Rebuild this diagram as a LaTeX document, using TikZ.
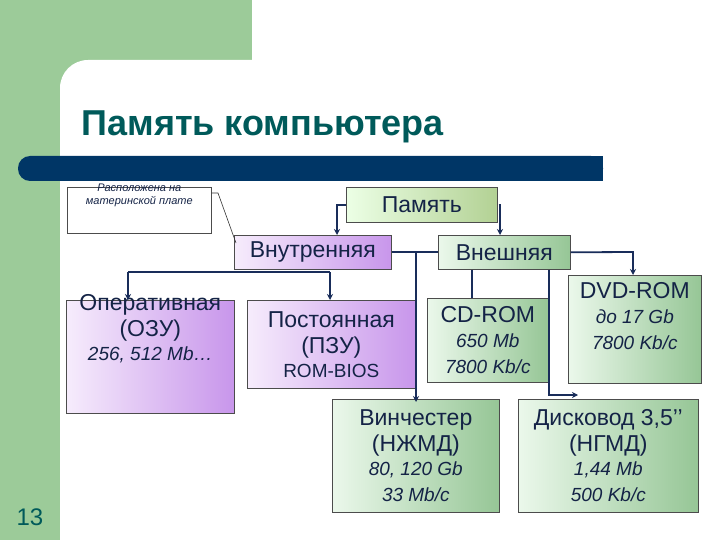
\documentclass[tikz,border=0pt]{standalone}
\usepackage{fontspec}
\setmainfont{Liberation Sans}
\usetikzlibrary{arrows.meta}
\definecolor{bggreen}{RGB}{156,203,153}
\definecolor{barblue}{RGB}{0,54,102}
\definecolor{titlec}{RGB}{0,90,90}
\definecolor{txt}{RGB}{20,35,70}
\definecolor{lin}{RGB}{25,45,90}
\definecolor{gdark}{RGB}{150,198,150}
\definecolor{glight}{RGB}{235,248,235}
\definecolor{pdark}{RGB}{200,150,235}
\definecolor{plight}{RGB}{246,236,252}
\tikzset{
 box/.style={draw=black!70,line width=0.6pt,inner sep=0pt,text=txt,align=center,font=\fontsize{23}{26}\selectfont},
 tx/.style={inner sep=0pt,text=txt,align=center,font=\fontsize{23}{26}\selectfont},
 gbox/.style={box,left color=glight,right color=gdark},
 pbox/.style={box,left color=plight,right color=pdark},
 conn/.style={draw=lin,line width=1.8pt},
 arr/.style={conn,-{Stealth[length=6pt,width=6pt]}}
}
\newcommand{\sm}[1]{{\fontsize{19}{23}\selectfont\itshape #1}}
\begin{document}
\begin{tikzpicture}[x=1pt,y=-1pt]
\useasboundingbox (0,0) rectangle (720,540);
\fill[white] (0,0) rectangle (720,540);
\fill[bggreen] (0,0) rectangle (252,85);
\fill[bggreen] (0,0) rectangle (60,540);
\fill[white,rounded corners=28] (60,60) rectangle (780,600);
\fill[white] (252,0) rectangle (720,62);
\node[anchor=west,text=titlec,font=\fontsize{36}{40}\selectfont\bfseries] (title) at (78,127) {Память компьютера};
\fill[barblue,rounded corners=12] (18,156) rectangle (603,181);
\fill[barblue] (40,156) rectangle (603,181);
\node[text=titlec,font=\fontsize{24}{26}\selectfont] (num) at (30,517) {13};

\node[box,fill=white,minimum width=144,minimum height=46,font=\fontsize{11}{13}\selectfont\itshape,anchor=north west] (note) at (67,187) {};
\node[tx,anchor=north,font=\fontsize{11}{13}\selectfont\itshape] (notet) at ([yshift=3]note.north) {Расположена на\\материнской плате};
\node[box,left color=yellow!25!green!10,right color=yellow!50!green!40!gray!60,minimum width=151,minimum height=35,anchor=north west] (mem) at (346,187) {Память};
\node[pbox,minimum width=157,minimum height=34,anchor=north west] (vn) at (234,235) {Внутренняя};
\node[gbox,minimum width=132,minimum height=34,anchor=north west] (ex) at (438,235) {Внешняя};
\node[pbox,minimum width=168,minimum height=113,anchor=north west] (ozu) at (66,300) {};
\node[tx,anchor=north] (ozut) at ([yshift=6]ozu.north) {Оперативная\\(ОЗУ)\\[-2pt]\sm{256, 512 Mb…}};
\node[pbox,minimum width=168,minimum height=88,anchor=north west] (pzu) at (247,300) {Постоянная\\(ПЗУ)\\[-2pt]{\fontsize{19}{23}\selectfont ROM-BIOS}};
\node[gbox,minimum width=121,minimum height=84,anchor=north west] (cd) at (427,298) {CD-ROM\\[-1pt]\sm{650 Mb}\\\sm{7800 Kb/c}};
\node[gbox,minimum width=133,minimum height=108,anchor=north west] (dvd) at (568,275) {};
\node[tx,anchor=north] (dvdt) at ([yshift=-7]dvd.north) {DVD-ROM\\[-1pt]\sm{до 17 Gb}\\\sm{7800 Kb/c}};
\node[gbox,minimum width=167,minimum height=113,anchor=north west] (hdd) at (332,399) {Винчестер\\(НЖМД)\\[-2pt]\sm{80, 120 Gb}\\\sm{33 Mb/c}};
\node[gbox,minimum width=180,minimum height=113,anchor=north west] (fdd) at (518,399) {Дисковод 3,5’’\\(НГМД)\\[-2pt]\sm{1,44 Mb}\\\sm{500 Kb/c}};

\coordinate (m1) at (337,205);
\draw[arr] (mem.west |- m1) -- (m1) -- (vn.north -| m1);
\draw[arr] ([xshift=1]mem.east |- m1) -- (500,205) -- (ex.north -| 500,0);
\draw[conn] (vn.east |- 0,252) -- (ex.west |- 0,252);
\draw[arr] (416,252) -- ([yshift=-3]hdd.north -| 416,0);
\draw[conn] (128,272) -- (330,272);
\draw[arr] (128,272) -- (ozu.north -| 128,0);
\draw[arr] (330,272) -- (pzu.north -| 330,0);
\draw[conn] (ex.south -| 472,0) -- (cd.north -| 472,0);
\draw[arr] (ex.south -| 549,0) -- (549,395) -- (578,395);
\draw[arr] (ex.east) -- (633,252) -- (dvd.north -| 633,0);
\draw[black!80,line width=0.6pt] (note.east |- 0,193) -- (218,193) -- (236,243);
\end{tikzpicture}
\end{document}
